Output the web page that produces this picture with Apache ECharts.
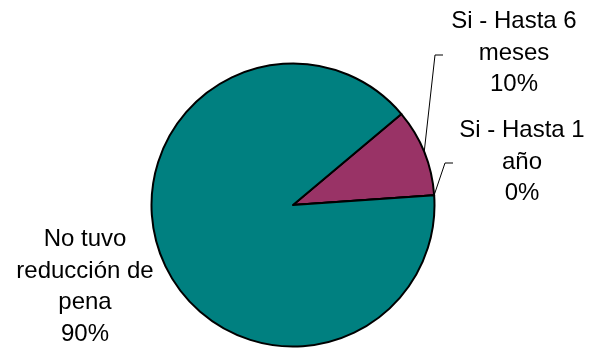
<!DOCTYPE html>
<html>
<head>
<meta charset="utf-8">
<script src="https://cdn.jsdelivr.net/npm/echarts@6/dist/echarts.min.js"></script>
<style>
  html, body { margin: 0; padding: 0; background: #ffffff; }
  #chart { width: 596px; height: 349px; }
</style>
</head>
<body>
<div id="chart"></div>
<script>
// Reducción de pena: share of cases per outcome
const categories = ['Si - Hasta 6 meses', 'Si - Hasta 1 año', 'No tuvo reducción de pena'];
const wrappedNames = ['Si - Hasta 6\nmeses', 'Si - Hasta 1\naño', 'No tuvo\nreducción de\npena'];
const values = [10, 0, 90];
const sliceColors = ['#993366', '#FFFFCC', '#008080'];

// Label block centres and leader-line elbows (px)
const labelSpots = [
  { x: 514, y: 53, elbow: [435, 55], end: [443, 55] },
  { x: 522, y: 162, elbow: [445, 163], end: [453, 163] },
  { x: 85, y: 287 }
];

const chart = echarts.init(document.getElementById('chart'), null, { renderer: 'canvas' });

chart.setOption({
  backgroundColor: '#ffffff',
  animation: false,
  series: [{
    type: 'pie',
    center: [293, 205],
    radius: 141.5,
    startAngle: 40,
    clockwise: true,
    avoidLabelOverlap: false,
    minShowLabelAngle: 0,
    data: categories.map((name, i) => ({
      name: name,
      value: values[i],
      itemStyle: { color: sliceColors[i] },
      labelLine: { show: i < 2 }
    })),
    itemStyle: { borderColor: '#000000', borderWidth: 2 },
    label: {
      show: true,
      position: 'outside',
      formatter: p => wrappedNames[p.dataIndex] + '\n' + Math.round(p.percent) + '%',
      fontFamily: 'Liberation Sans, Arial, sans-serif',
      fontSize: 24,
      lineHeight: 31.5,
      color: '#000000',
      align: 'center'
    },
    labelLine: {
      show: true,
      length: 10,
      length2: 10,
      lineStyle: { color: '#000000', width: 1 }
    },
    labelLayout: function (params) {
      const spot = labelSpots[params.dataIndex];
      const out = { x: spot.x, y: spot.y, align: 'center', verticalAlign: 'middle' };
      if (spot.elbow && params.labelLinePoints) {
        out.labelLinePoints = [params.labelLinePoints[0], spot.elbow, spot.end];
      }
      return out;
    },
    emphasis: { disabled: true }
  }]
});
</script>
</body>
</html>
